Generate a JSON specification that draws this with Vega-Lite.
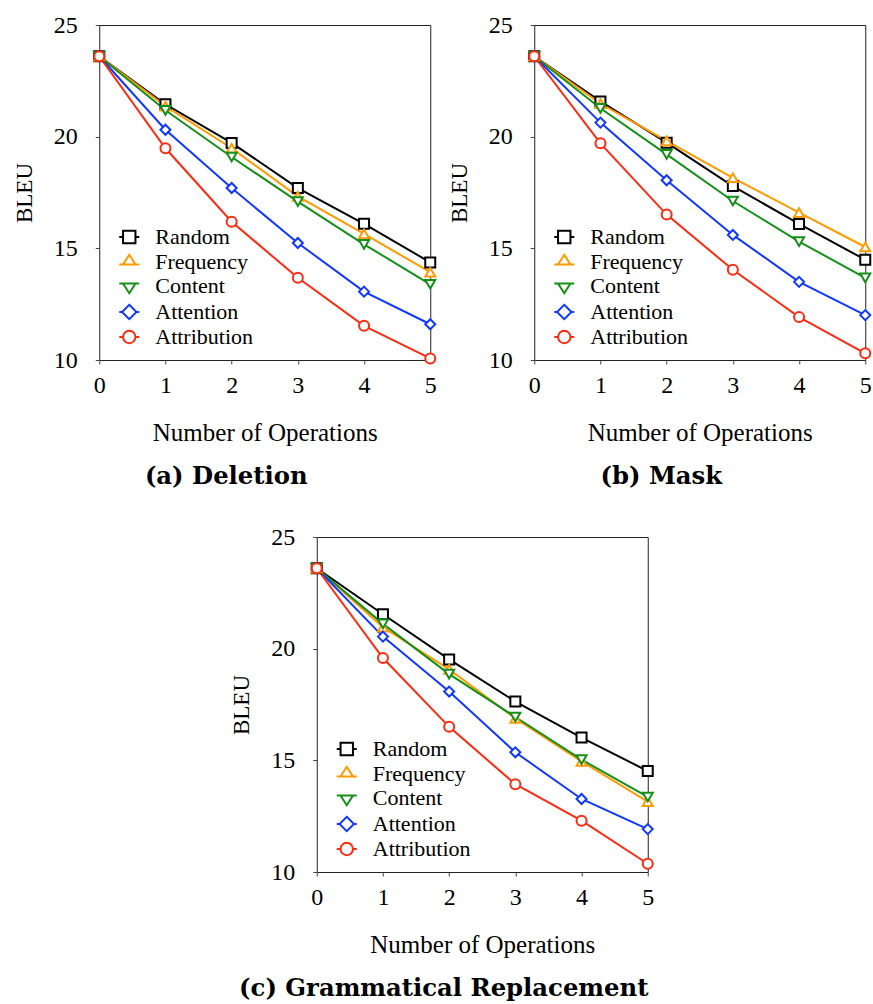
{
  "$schema": "https://vega.github.io/schema/vega-lite/v6.json",
  "padding": {"left": 12, "top": 12, "right": 0, "bottom": 2},
  "background": "white",
  "datasets": {
    "deletion": [
      {"method": "Random", "ops": 0, "bleu": 23.6}, {"method": "Random", "ops": 1, "bleu": 21.45}, {"method": "Random", "ops": 2, "bleu": 19.72}, {"method": "Random", "ops": 3, "bleu": 17.7}, {"method": "Random", "ops": 4, "bleu": 16.1}, {"method": "Random", "ops": 5, "bleu": 14.37},
      {"method": "Frequency", "ops": 0, "bleu": 23.6}, {"method": "Frequency", "ops": 1, "bleu": 21.37}, {"method": "Frequency", "ops": 2, "bleu": 19.48}, {"method": "Frequency", "ops": 3, "bleu": 17.33}, {"method": "Frequency", "ops": 4, "bleu": 15.65}, {"method": "Frequency", "ops": 5, "bleu": 13.93},
      {"method": "Content", "ops": 0, "bleu": 23.6}, {"method": "Content", "ops": 1, "bleu": 21.18}, {"method": "Content", "ops": 2, "bleu": 19.09}, {"method": "Content", "ops": 3, "bleu": 17.09}, {"method": "Content", "ops": 4, "bleu": 15.18}, {"method": "Content", "ops": 5, "bleu": 13.39},
      {"method": "Attention", "ops": 0, "bleu": 23.6}, {"method": "Attention", "ops": 1, "bleu": 20.31}, {"method": "Attention", "ops": 2, "bleu": 17.7}, {"method": "Attention", "ops": 3, "bleu": 15.24}, {"method": "Attention", "ops": 4, "bleu": 13.06}, {"method": "Attention", "ops": 5, "bleu": 11.6},
      {"method": "Attribution", "ops": 0, "bleu": 23.6}, {"method": "Attribution", "ops": 1, "bleu": 19.48}, {"method": "Attribution", "ops": 2, "bleu": 16.19}, {"method": "Attribution", "ops": 3, "bleu": 13.68}, {"method": "Attribution", "ops": 4, "bleu": 11.53}, {"method": "Attribution", "ops": 5, "bleu": 10.07}
    ],
    "mask": [
      {"method": "Random", "ops": 0, "bleu": 23.6}, {"method": "Random", "ops": 1, "bleu": 21.58}, {"method": "Random", "ops": 2, "bleu": 19.73}, {"method": "Random", "ops": 3, "bleu": 17.79}, {"method": "Random", "ops": 4, "bleu": 16.09}, {"method": "Random", "ops": 5, "bleu": 14.49},
      {"method": "Frequency", "ops": 0, "bleu": 23.6}, {"method": "Frequency", "ops": 1, "bleu": 21.48}, {"method": "Frequency", "ops": 2, "bleu": 19.81}, {"method": "Frequency", "ops": 3, "bleu": 18.16}, {"method": "Frequency", "ops": 4, "bleu": 16.6}, {"method": "Frequency", "ops": 5, "bleu": 15.06},
      {"method": "Content", "ops": 0, "bleu": 23.6}, {"method": "Content", "ops": 1, "bleu": 21.27}, {"method": "Content", "ops": 2, "bleu": 19.21}, {"method": "Content", "ops": 3, "bleu": 17.12}, {"method": "Content", "ops": 4, "bleu": 15.3}, {"method": "Content", "ops": 5, "bleu": 13.68},
      {"method": "Attention", "ops": 0, "bleu": 23.6}, {"method": "Attention", "ops": 1, "bleu": 20.63}, {"method": "Attention", "ops": 2, "bleu": 18.05}, {"method": "Attention", "ops": 3, "bleu": 15.6}, {"method": "Attention", "ops": 4, "bleu": 13.5}, {"method": "Attention", "ops": 5, "bleu": 12.01},
      {"method": "Attribution", "ops": 0, "bleu": 23.6}, {"method": "Attribution", "ops": 1, "bleu": 19.7}, {"method": "Attribution", "ops": 2, "bleu": 16.51}, {"method": "Attribution", "ops": 3, "bleu": 14.04}, {"method": "Attribution", "ops": 4, "bleu": 11.92}, {"method": "Attribution", "ops": 5, "bleu": 10.3}
    ],
    "grammatical": [
      {"method": "Random", "ops": 0, "bleu": 23.6}, {"method": "Random", "ops": 1, "bleu": 21.54}, {"method": "Random", "ops": 2, "bleu": 19.52}, {"method": "Random", "ops": 3, "bleu": 17.63}, {"method": "Random", "ops": 4, "bleu": 16.02}, {"method": "Random", "ops": 5, "bleu": 14.52},
      {"method": "Frequency", "ops": 0, "bleu": 23.6}, {"method": "Frequency", "ops": 1, "bleu": 20.96}, {"method": "Frequency", "ops": 2, "bleu": 19.07}, {"method": "Frequency", "ops": 3, "bleu": 16.88}, {"method": "Frequency", "ops": 4, "bleu": 14.95}, {"method": "Frequency", "ops": 5, "bleu": 13.15},
      {"method": "Content", "ops": 0, "bleu": 23.6}, {"method": "Content", "ops": 1, "bleu": 21.11}, {"method": "Content", "ops": 2, "bleu": 18.86}, {"method": "Content", "ops": 3, "bleu": 16.94}, {"method": "Content", "ops": 4, "bleu": 15.03}, {"method": "Content", "ops": 5, "bleu": 13.36},
      {"method": "Attention", "ops": 0, "bleu": 23.6}, {"method": "Attention", "ops": 1, "bleu": 20.54}, {"method": "Attention", "ops": 2, "bleu": 18.08}, {"method": "Attention", "ops": 3, "bleu": 15.36}, {"method": "Attention", "ops": 4, "bleu": 13.27}, {"method": "Attention", "ops": 5, "bleu": 11.92},
      {"method": "Attribution", "ops": 0, "bleu": 23.6}, {"method": "Attribution", "ops": 1, "bleu": 19.58}, {"method": "Attribution", "ops": 2, "bleu": 16.5}, {"method": "Attribution", "ops": 3, "bleu": 13.93}, {"method": "Attribution", "ops": 4, "bleu": 12.3}, {"method": "Attribution", "ops": 5, "bleu": 10.37}
    ]
  },
  "config": {
    "font": "Liberation Serif, Times New Roman, Times, serif",
    "view": {"stroke": "#222", "strokeWidth": 1},
    "axis": {
      "grid": false,
      "domain": false,
      "ticks": true,
      "tickSize": 4,
      "tickColor": "#444",
      "labelFont": "Liberation Serif, Times New Roman, Times, serif",
      "labelFontSize": 24,
      "labelColor": "black",
      "titleFont": "Liberation Serif, Times New Roman, Times, serif",
      "titleFontWeight": "normal",
      "titleColor": "black"
    },
    "axisX": {"labelPadding": 9, "titleFontSize": 25, "titlePadding": 23, "labelFlush": false},
    "axisY": {"labelPadding": 18, "titleFontSize": 23, "titlePadding": 17, "labelFlush": false},
    "title": {
      "font": "DejaVu Serif",
      "fontSize": 24.3,
      "fontWeight": "bold",
      "color": "black",
      "orient": "bottom",
      "anchor": "middle",
      "frame": "bounds",
      "offset": 20
    },
    "legend": {
      "orient": "none",
      "legendX": 19,
      "legendY": 201,
      "title": null,
      "labelFont": "Liberation Serif, Times New Roman, Times, serif",
      "labelFontSize": 22,
      "labelColor": "black",
      "labelOffset": 15,
      "symbolSize": 400,
      "symbolStrokeWidth": 2,
      "symbolFillColor": "white",
      "symbolType": {"expr": "datum.value === 'Random' ? 'M-1,0H-0.62M0.62,0H1M-0.62,-0.62H0.62V0.62H-0.62Z' : datum.value === 'Frequency' ? 'M-1,0.25H1M0,-0.72L0.62,0.25H-0.62Z' : datum.value === 'Content' ? 'M-1,-0.25H1M0,0.72L0.62,-0.25H-0.62Z' : datum.value === 'Attention' ? 'M-1,0H-0.72M0.72,0H1M0,-0.72L0.72,0L0,0.72L-0.72,0Z' : 'M-1,0H-0.62M0.62,0H1M0.62,0A0.62,0.62 0 1,1 -0.62,0A0.62,0.62 0 1,1 0.62,0Z'"},
      "rowPadding": 2,
      "padding": 0
    },
    "line": {"strokeWidth": 2}
  },
  "vconcat": [
    {
      "hconcat": [
        {
          "title": "(a) Deletion",
          "width": 331,
          "height": 335,
          "data": {"name": "deletion"},
          "mark": {"type": "line", "strokeWidth": 2, "point": {"filled": false, "fill": "white", "size": 100, "strokeWidth": 2}},
          "encoding": {
            "x": {"field": "ops", "type": "quantitative", "title": "Number of Operations", "scale": {"domain": [0, 5], "nice": false, "zero": false}, "axis": {"values": [0, 1, 2, 3, 4, 5], "format": "d"}},
            "y": {"field": "bleu", "type": "quantitative", "title": "BLEU", "scale": {"domain": [10, 25], "nice": false, "zero": false}, "axis": {"values": [10, 15, 20, 25], "format": "d"}},
            "color": {"field": "method", "type": "nominal", "sort": ["Random", "Frequency", "Content", "Attention", "Attribution"], "scale": {"domain": ["Random", "Frequency", "Content", "Attention", "Attribution"], "range": ["#000000", "#ff9a00", "#14901a", "#1038ff", "#ff2a10"]}},
            "shape": {"field": "method", "type": "nominal", "legend": null, "scale": {"domain": ["Attribution", "Attention", "Content", "Frequency", "Random"], "range": ["circle", "diamond", "triangle-down", "triangle-up", "square"]}},
            "order": {"field": "ops", "type": "quantitative"}
          }
        },
        {
          "title": "(b) Mask",
          "width": 331,
          "height": 335,
          "data": {"name": "mask"},
          "mark": {"type": "line", "strokeWidth": 2, "point": {"filled": false, "fill": "white", "size": 100, "strokeWidth": 2}},
          "encoding": {
            "x": {"field": "ops", "type": "quantitative", "title": "Number of Operations", "scale": {"domain": [0, 5], "nice": false, "zero": false}, "axis": {"values": [0, 1, 2, 3, 4, 5], "format": "d"}},
            "y": {"field": "bleu", "type": "quantitative", "title": "BLEU", "scale": {"domain": [10, 25], "nice": false, "zero": false}, "axis": {"values": [10, 15, 20, 25], "format": "d"}},
            "color": {"field": "method", "type": "nominal", "sort": ["Random", "Frequency", "Content", "Attention", "Attribution"], "scale": {"domain": ["Random", "Frequency", "Content", "Attention", "Attribution"], "range": ["#000000", "#ff9a00", "#14901a", "#1038ff", "#ff2a10"]}},
            "shape": {"field": "method", "type": "nominal", "legend": null, "scale": {"domain": ["Attribution", "Attention", "Content", "Frequency", "Random"], "range": ["circle", "diamond", "triangle-down", "triangle-up", "square"]}},
            "order": {"field": "ops", "type": "quantitative"}
          }
        }
      ],
      "spacing": 7,
      "resolve": {"legend": {"color": "independent", "shape": "independent"}, "scale": {"color": "independent", "shape": "independent"}}
    },
    {
      "title": "(c) Grammatical Replacement",
      "width": 331,
      "height": 335,
      "data": {"name": "grammatical"},
      "mark": {"type": "line", "strokeWidth": 2, "point": {"filled": false, "fill": "white", "size": 100, "strokeWidth": 2}},
      "encoding": {
        "x": {"field": "ops", "type": "quantitative", "title": "Number of Operations", "scale": {"domain": [0, 5], "nice": false, "zero": false}, "axis": {"values": [0, 1, 2, 3, 4, 5], "format": "d"}},
        "y": {"field": "bleu", "type": "quantitative", "title": "BLEU", "scale": {"domain": [10, 25], "nice": false, "zero": false}, "axis": {"values": [10, 15, 20, 25], "format": "d"}},
        "color": {"field": "method", "type": "nominal", "sort": ["Random", "Frequency", "Content", "Attention", "Attribution"], "scale": {"domain": ["Random", "Frequency", "Content", "Attention", "Attribution"], "range": ["#000000", "#ff9a00", "#14901a", "#1038ff", "#ff2a10"]}},
        "shape": {"field": "method", "type": "nominal", "legend": null, "scale": {"domain": ["Attribution", "Attention", "Content", "Frequency", "Random"], "range": ["circle", "diamond", "triangle-down", "triangle-up", "square"]}},
        "order": {"field": "ops", "type": "quantitative"}
      }
    }
  ],
  "spacing": 34,
  "center": true,
  "resolve": {"legend": {"color": "independent", "shape": "independent"}, "scale": {"color": "independent", "shape": "independent"}}
}
